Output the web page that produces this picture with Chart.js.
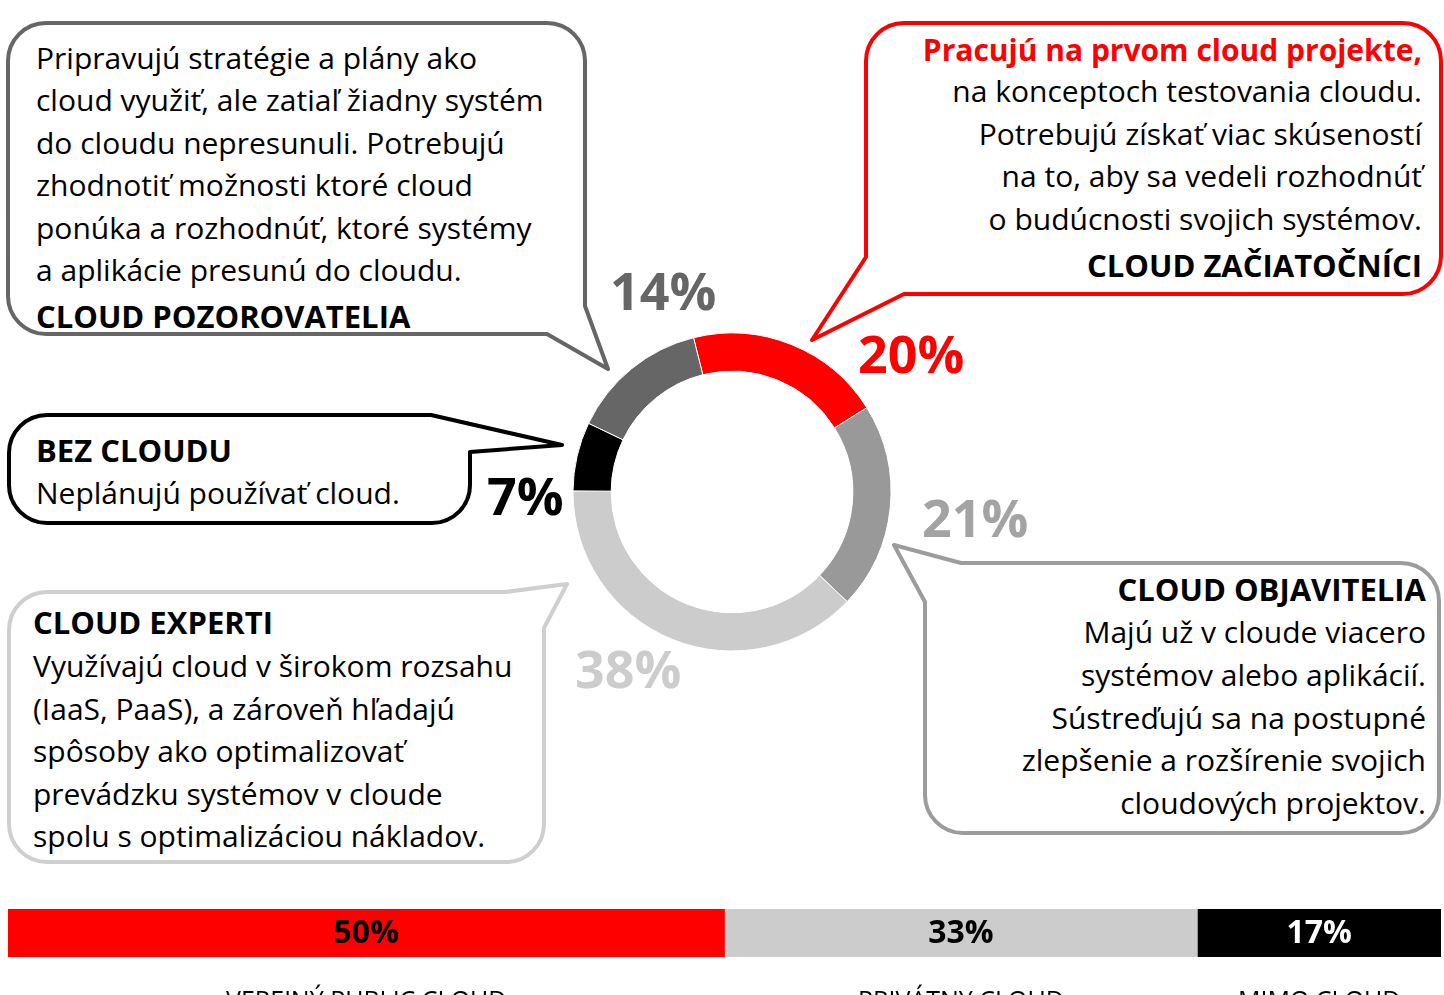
<!DOCTYPE html>
<html><head><meta charset="utf-8">
<script src="https://cdn.jsdelivr.net/npm/chart.js@4/dist/chart.umd.min.js"></script>
<style>
html,body{margin:0;padding:0;background:#fff;overflow:hidden;width:1444px;height:995px}
#bubbles{position:absolute;left:0;top:0}
#donut{position:absolute;left:0;top:0}
#barwrap{position:absolute;left:8px;top:909px;width:1433px;height:86px}
#bubbles text{font-family:"Open Sans",sans-serif;font-size:30px;fill:#000}
#bubbles text.b{font-weight:bold;font-size:31px}
#bubbles text.lead{font-size:30px}
</style></head><body>
<svg id="bubbles" width="1444" height="995" xmlns="http://www.w3.org/2000/svg"></svg>
<canvas id="donut" width="1444" height="995"></canvas>
<div id="barwrap"><canvas id="bar" width="1433" height="86"></canvas></div>
<script>
// ---- data ----
const segmentLabels = ['CLOUD ZAČIATOČNÍCI','CLOUD OBJAVITELIA','CLOUD EXPERTI','BEZ CLOUDU','CLOUD POZOROVATELIA'];
const segmentValues = [20, 21, 38, 7, 14];
const segmentColors = ['#ff0000','#999999','#cccccc','#000000','#666666'];
const segmentLabelColors = ['#ff0000','#a3a3a3','#cccccc','#000000','#666666'];

const cloudCategories = ['VEREJNÝ PUBLIC CLOUD','PRIVÁTNY CLOUD','MIMO CLOUD'];
const cloudValues = [50, 33, 17];
const cloudColors = ['#ff0000','#cccccc','#000000'];
const cloudLabelColors = ['#000000','#000000','#ffffff'];

const observersText = ['Pripravujú stratégie a plány ako','cloud využiť, ale zatiaľ žiadny systém','do cloudu nepresunuli. Potrebujú','zhodnotiť možnosti ktoré cloud','ponúka a rozhodnúť, ktoré systémy','a aplikácie presunú do cloudu.'];
const beginnersLead = 'Pracujú na prvom cloud projekte,';
const beginnersText = ['na konceptoch testovania cloudu.','Potrebujú získať viac skúseností','na to, aby sa vedeli rozhodnúť','o budúcnosti svojich systémov.'];
const noCloudText = ['Neplánujú používať cloud.'];
const expertsText = ['Využívajú cloud v širokom rozsahu','(IaaS, PaaS), a zároveň hľadajú','spôsoby ako optimalizovať','prevádzku systémov v cloude','spolu s optimalizáciou nákladov.'];
const discoverersText = ['Majú už v cloude viacero','systémov alebo aplikácií.','Sústreďujú sa na postupné','zlepšenie a rozšírenie svojich','cloudových projektov.'];

// ---- layout (positions / styles) ----
const svg = document.getElementById('bubbles');
const NS = 'http://www.w3.org/2000/svg';
function path(d, color){
  const p = document.createElementNS(NS,'path');
  p.setAttribute('d', d); p.setAttribute('fill','#fff'); p.setAttribute('stroke', color);
  p.setAttribute('stroke-width','4'); p.setAttribute('stroke-linejoin','round');
  svg.appendChild(p);
}
function text(str, x, y, anchor, cls, color){
  const t = document.createElementNS(NS,'text');
  t.setAttribute('x', x); t.setAttribute('y', y);
  t.setAttribute('text-anchor', anchor);
  if (cls) t.setAttribute('class', cls);
  if (color) t.style.fill = color;
  t.textContent = str;
  svg.appendChild(t);
}
// bubbles
path('M 46 23 H 547 A 38 38 0 0 1 585 61 V 306 L 608 369 L 547 334 H 46 A 38 38 0 0 1 8 296 V 61 A 38 38 0 0 1 46 23 Z', '#666666');
path('M 904 23 H 1403 A 38 38 0 0 1 1441 61 V 256 A 38 38 0 0 1 1403 294 H 904 L 812 340 L 866 257 V 61 A 38 38 0 0 1 904 23 Z', '#ff0000');
path('M 47 415 H 431 L 562 445 L 470 452 V 485 A 38 38 0 0 1 432 523 H 47 A 38 38 0 0 1 9 485 V 453 A 38 38 0 0 1 47 415 Z', '#000000');
path('M 47 592 H 505 L 567 584 L 544 628 V 824 A 38 38 0 0 1 506 862 H 47 A 38 38 0 0 1 9 824 V 630 A 38 38 0 0 1 47 592 Z', '#cfcfcf');
path('M 961 563 H 1401 A 38 38 0 0 1 1439 601 V 795 A 38 38 0 0 1 1401 833 H 963 A 38 38 0 0 1 925 795 V 602 L 894 545 L 961 563 Z', '#9c9c9c');

// texts
observersText.forEach((s,i)=>text(s, 36, 69 + 42.4*i, 'start'));
text(segmentLabels[4], 36, 328, 'start', 'b');

text(beginnersLead, 1422, 61, 'end', 'b lead', '#ff0000');
beginnersText.forEach((s,i)=>text(s, 1422, 102 + 42.5*i, 'end'));
text(segmentLabels[0], 1422, 277, 'end', 'b');

text(segmentLabels[3], 36, 462, 'start', 'b');
noCloudText.forEach((s,i)=>text(s, 36, 504 + 42.5*i, 'start'));

text(segmentLabels[2], 33, 634, 'start', 'b');
expertsText.forEach((s,i)=>text(s, 33, 677 + 42.5*i, 'start'));

text(segmentLabels[1], 1426, 601, 'end', 'b');
discoverersText.forEach((s,i)=>text(s, 1426, 643 + 42.8*i, 'end'));

// ---- doughnut ----
const pctPos = [[858,373],[922,537],[575,688],[487,515],[610,310]];
const pctPlugin = {
  id:'pct',
  afterDraw(chart){
    const ctx = chart.ctx;
    ctx.save();
    ctx.font = 'bold 52px "Open Sans"';
    ctx.textAlign = 'left'; ctx.textBaseline = 'alphabetic';
    segmentValues.forEach((v,i)=>{
      ctx.fillStyle = segmentLabelColors[i];
      ctx.fillText(v + '%', pctPos[i][0], pctPos[i][1]);
    });
    ctx.restore();
  }
};
new Chart(document.getElementById('donut'), {
  type:'doughnut',
  data:{labels:segmentLabels, datasets:[{data:segmentValues, backgroundColor:segmentColors, borderColor:'#ffffff', borderWidth:1}]},
  options:{
    responsive:false, animation:false, devicePixelRatio:1,
    rotation:-14, radius:159, cutout:'76%',
    layout:{padding:{left:420,right:400,top:170,bottom:181}},
    plugins:{legend:{display:false}, tooltip:{enabled:false}}
  },
  plugins:[pctPlugin]
});

// ---- stacked bar ----
const barLabelPlugin = {
  id:'barLabels',
  afterDatasetsDraw(chart){
    const ctx = chart.ctx;
    ctx.save();
    chart.data.datasets.forEach((ds,i)=>{
      const el = chart.getDatasetMeta(i).data[0];
      const cx = (el.x + el.base)/2;
      ctx.textAlign = 'center';
      ctx.textBaseline = 'middle';
      ctx.font = 'bold 32px "Open Sans"';
      ctx.fillStyle = cloudLabelColors[i];
      ctx.fillText(cloudValues[i] + '%', cx, el.y + 1);
      ctx.textBaseline = 'alphabetic';
      ctx.font = '25px "Open Sans"';
      ctx.fillStyle = '#000';
      ctx.fillText(cloudCategories[i], cx, 100);
    });
    ctx.restore();
  }
};
new Chart(document.getElementById('bar'), {
  type:'bar',
  data:{labels:['cloud'], datasets: cloudCategories.map((c,i)=>({label:c, data:[cloudValues[i]], backgroundColor:cloudColors[i], borderWidth:0, barPercentage:1, categoryPercentage:1}))},
  options:{
    indexAxis:'y', responsive:false, animation:false, devicePixelRatio:1,
    layout:{padding:{left:0,right:0,top:0,bottom:38}},
    scales:{x:{stacked:true, display:false, min:0, max:100}, y:{stacked:true, display:false}},
    plugins:{legend:{display:false}, tooltip:{enabled:false}}
  },
  plugins:[barLabelPlugin]
});
</script>
</body></html>
